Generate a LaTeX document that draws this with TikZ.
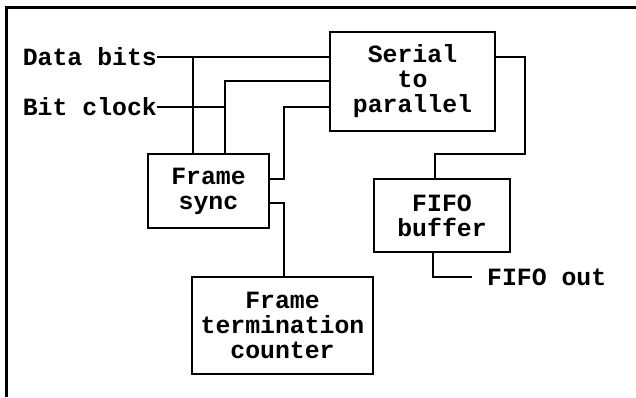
\documentclass[tikz,border=0pt]{standalone}
\usepackage{fontspec}
\setmonofont{Liberation Mono}
\usetikzlibrary{calc}

\begin{document}
\begin{tikzpicture}[
    x=1pt, y=-1pt,
    line join=miter,
    font=\ttfamily\bfseries\fontsize{24.8}{25}\selectfont,
    block/.style={draw, line width=2pt, align=center, inner sep=0pt},
    wire/.style={line width=2pt},
    sig/.style={inner sep=0pt}
]

% ======================================
% page frame
% ======================================
\useasboundingbox (0,0) rectangle (636,397);
\draw[line width=3pt] (6,397) -- (6,7) -- (636,7);

% ======================================
% blocks
% ======================================
\node[block, minimum width=165pt, minimum height=99pt] (s2p)   at (412.5,81.5) {Serial\\to\\parallel};
\node[block, minimum width=121pt, minimum height=74pt] (fsync) at (208.5,191)  {Frame\\sync};
\node[block, minimum width=181pt, minimum height=97pt] (ftc)   at (282.5,325.5) {Frame\\termination\\counter};
\node[block, minimum width=136pt, minimum height=73pt] (fifo)  at (442,215.5)  {FIFO\\buffer};

% ======================================
% signal names
% ======================================
\node[sig, anchor=east] (dbits) at (157,57)  {Data bits};
\node[sig, anchor=east] (bclk)  at (157,107) {Bit clock};
\node[sig, anchor=west] (fout)  at (487,277) {FIFO out};

% ======================================
% wiring points
% ======================================
\coordinate (tapD)  at (193,57);   % data tap into frame sync
\coordinate (tapC)  at (225,81);   % clock into frame sync / s2p
\coordinate (syncA) at (284,107);  % frame sync -> s2p
\coordinate (syncB) at (284,203);  % frame sync -> counter
\coordinate (outA)  at (525,57);   % s2p output
\coordinate (outB)  at (435,154);
\coordinate (fifoQ) at (433,277);  % fifo output
\coordinate (fifoE) at (472,277);

% ======================================
% connectors
% ======================================
% data bits
\draw[wire] (dbits.east) -- (dbits.east -| s2p.west);
\draw[wire] (fsync.north -| tapD) -- (tapD);

% bit clock
\draw[wire] (bclk.east) -- (bclk.east -| tapC);
\draw[wire] (fsync.north -| tapC) -- (tapC) -- (tapC -| s2p.west);

% frame sync outputs
\draw[wire] (fsync.east |- 0,179) -- (syncA |- 0,179) -- (syncA) -- (syncA -| s2p.west);
\draw[wire] (fsync.east |- syncB) -- (syncB) -- (syncB |- ftc.north);

% serial to parallel -> fifo
\draw[wire] (s2p.east |- outA) -- (outA) -- (outA |- outB) -- (outB) -- (outB |- fifo.north);

% fifo out
\draw[wire] (fifo.south -| fifoQ) -- (fifoQ) -- (fifoE);

\end{tikzpicture}
\end{document}
